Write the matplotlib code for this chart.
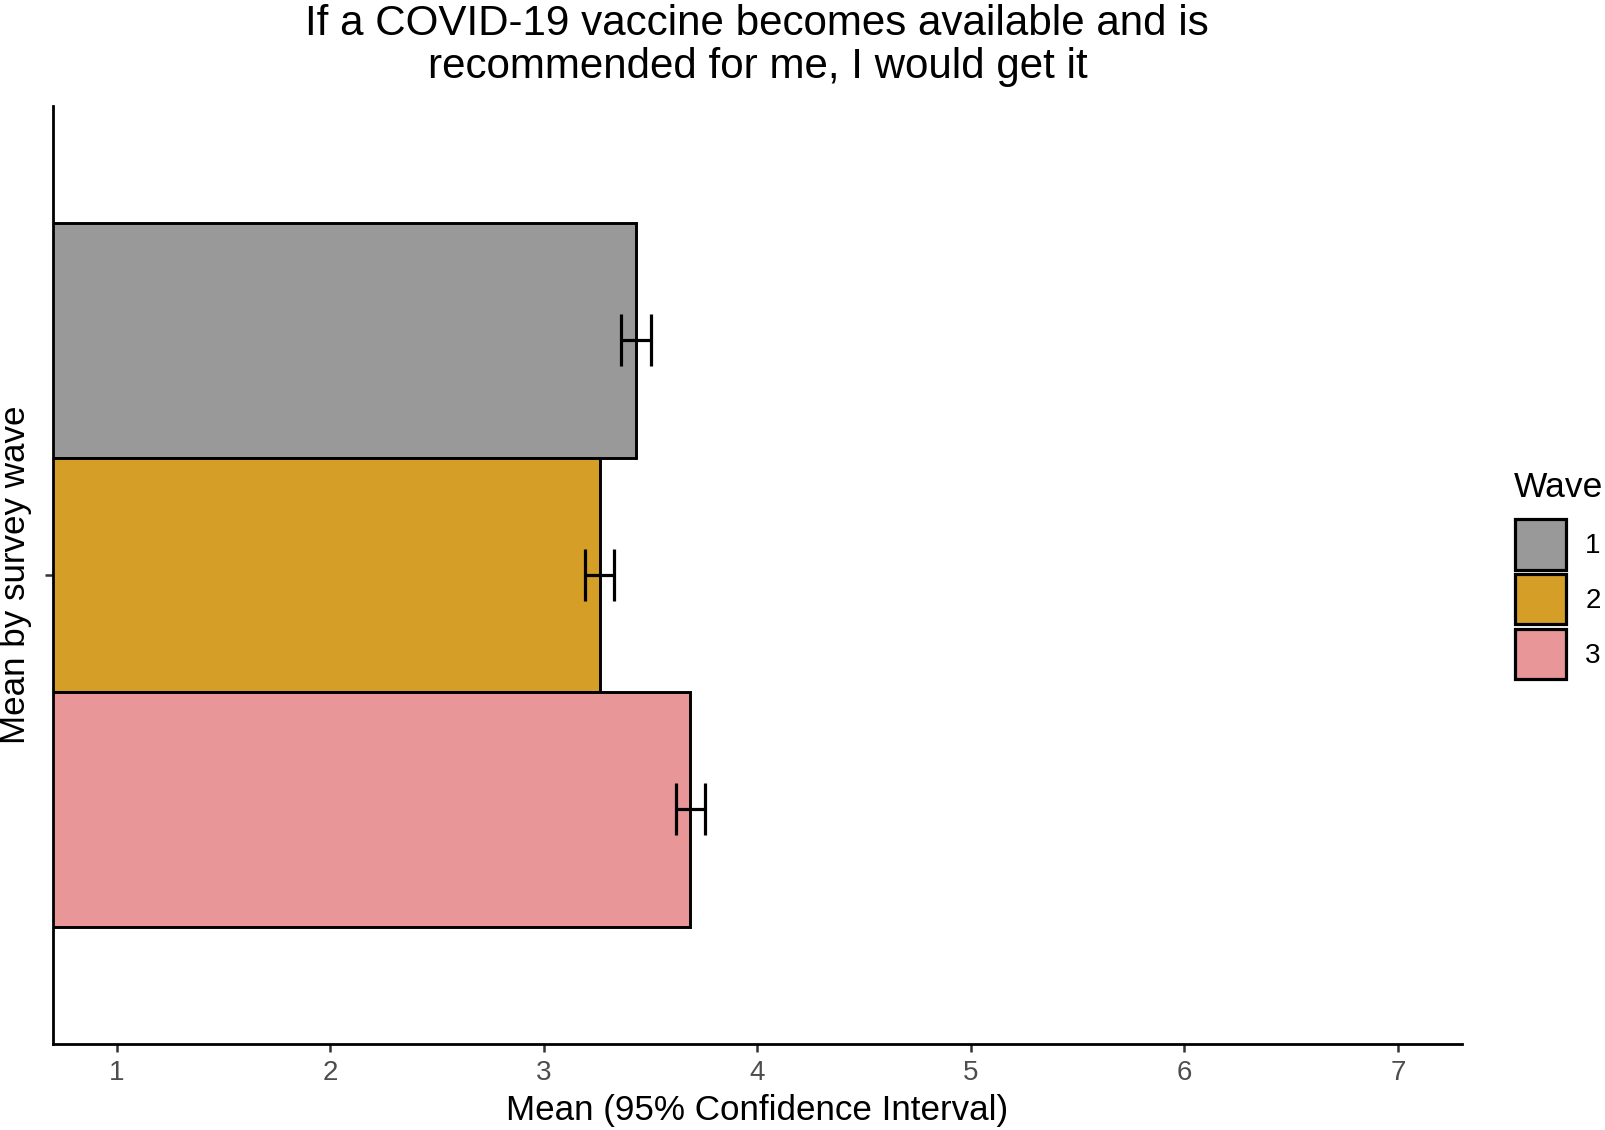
import matplotlib
matplotlib.use("Agg")
import matplotlib.pyplot as plt
from matplotlib.patches import Patch
import numpy as np

plt.rcParams['font.family'] = ['Liberation Sans', 'DejaVu Sans']

# ---- data ----
waves = ["1", "2", "3"]
means = [3.431, 3.264, 3.686]
ci_low = [3.362, 3.195, 3.617]
ci_high = [3.500, 3.328, 3.756]
colors = ["#999999", "#D49E27", "#E89698"]
xticks = [1, 2, 3, 4, 5, 6, 7]
title_lines = ["If a COVID-19 vaccine becomes available and is",
               "recommended for me, I would get it"]
xlabel = "Mean (95% Confidence Interval)"
ylabel = "Mean by survey wave"
legend_title = "Wave"

W, H = 1606, 1130
fig = plt.figure(figsize=(W / 100, H / 100), dpi=100)
ax = fig.add_axes([52.7 / W, 1 - 1044 / H, (1462 - 52.7) / W, (1044 - 105.7) / H])

dodge = 0.3
n = len(waves)
ypos = 1 + (np.arange(n) - (n - 1) / 2) * dodge
m = np.array(means)
lo = np.array(ci_low)
hi = np.array(ci_high)

ax.barh(ypos, m, left=0, height=dodge, color=colors, edgecolor="black",
        linewidth=2.1, zorder=2)
ax.errorbar(m, ypos, xerr=[m - lo, hi - m], fmt="none", ecolor="black",
            elinewidth=2.3, capsize=18.4, capthick=2.3, zorder=3)

ax.set_xlim(0.7, 7.3)
ax.set_ylim(1.6, 0.4)
ax.set_xticks(xticks)
ax.set_xticklabels([str(t) for t in xticks])
ax.set_yticks([1])
ax.set_yticklabels([""])
for s in ["top", "right"]:
    ax.spines[s].set_visible(False)
for s in ["left", "bottom"]:
    ax.spines[s].set_linewidth(2.0)
    ax.spines[s].set_color("black")
ax.tick_params(axis="both", length=5.8, width=1.8, color="#333333",
               labelcolor="#4D4D4D", labelsize=20, pad=6)

# titles and axis labels
cx = (52.7 + 1462) / 2 / W
fig.text(cx, 1 - 35 / H, title_lines[0], ha="center", va="baseline", fontsize=30.3)
fig.text(cx, 1 - 78 / H, title_lines[1], ha="center", va="baseline", fontsize=30.3)
fig.text(cx, 1 - 1120 / H, xlabel, ha="center", va="baseline", fontsize=25.2)
fig.text(16 / W, 1 - 575 / H, ylabel, ha="center", va="center", rotation=90,
         fontsize=25.2)

# legend
fig.text(1514 / W, 1 - 497 / H, legend_title, ha="left", va="baseline", fontsize=25.5)
handles = [Patch(facecolor=c, edgecolor="black", linewidth=2.3) for c in colors]
leg = fig.legend(handles, waves, loc="upper left",
                 bbox_to_anchor=(1515 / W, 1 - 519 / H), frameon=False,
                 fontsize=20, handlelength=1.85,
                 handleheight=2.42, labelspacing=0.16, handletextpad=0.68,
                 borderpad=0, borderaxespad=0)

fig.savefig("out.png", dpi=100)
